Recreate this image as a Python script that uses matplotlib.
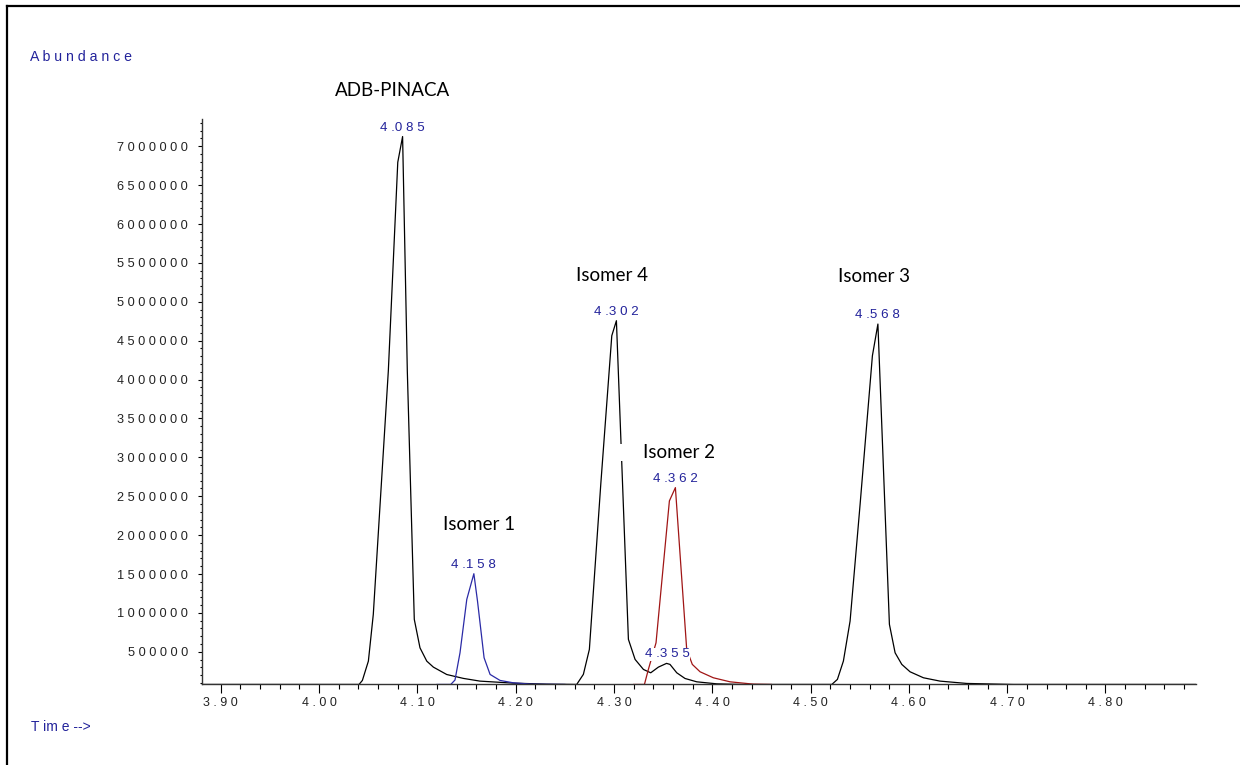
import matplotlib
matplotlib.use("Agg")
import matplotlib.pyplot as plt
from matplotlib.ticker import MultipleLocator, FuncFormatter
from matplotlib.lines import Line2D

# chromatogram traces (time in min, abundance)
black_t = [3.880, 4.0407, 4.0441, 4.0502, 4.0552, 4.0705, 4.0801, 4.0850, 4.0898, 4.0969,
           4.1027, 4.1096, 4.1163, 4.1299, 4.1468, 4.1637, 4.1977, 4.2316, 4.2621, 4.2689,
           4.2750, 4.2866, 4.2978, 4.3025, 4.3147, 4.3215, 4.3300, 4.3374, 4.3452, 4.3535,
           4.3570, 4.3639, 4.3723, 4.3842, 4.4046, 4.4300, 4.5216, 4.5273, 4.5334, 4.5402,
           4.5504, 4.5629, 4.5685, 4.5802, 4.5860, 4.5928, 4.6012, 4.6148, 4.6317, 4.6589,
           4.7063, 4.892]
black_y = [80000, 80000, 132000, 380000, 981000, 4113000, 6794000, 7125000, 4113000, 917000,
           551000, 380000, 303000, 208000, 158000, 123000, 97000, 84000, 80000, 210000,
           531000, 2654000, 4564000, 4757000, 660000, 402000, 273000, 230000, 303000, 351000,
           338000, 230000, 157000, 114000, 88000, 80000, 80000, 145000, 381000, 895000,
           2397000, 4306000, 4714000, 853000, 487000, 338000, 243000, 166000, 123000, 93000,
           80000, 80000]

blue_t = [4.120, 4.1340, 4.1383, 4.1434, 4.1503, 4.1575, 4.1612, 4.1679, 4.1740, 4.1841,
          4.1977, 4.2164, 4.2500]
blue_y = [80000, 80000, 137000, 487000, 1174000, 1504000, 1152000, 423000, 209000, 132000,
          101000, 84000, 80000]

red_t = [4.320, 4.3310, 4.3350, 4.3428, 4.3564, 4.3625, 4.3740, 4.3797, 4.3876, 4.4011,
         4.4181, 4.4418, 4.4600]
red_y = [80000, 80000, 273000, 616000, 2440000, 2611000, 531000, 338000, 243000, 166000,
         114000, 84000, 80000]

# peak retention time labels and apex heights
peak_rt = ["4.085", "4.158", "4.302", "4.362", "4.355", "4.568"]
peak_t = [4.085, 4.1575, 4.3025, 4.3625, 4.3545, 4.5685]
peak_h = [7125000, 1504000, 4757000, 2611000, 351000, 4714000]

# compound names, the peak they sit over, and text offset in pixels
names = ["ADB-PINACA", "Isomer 1", "Isomer 4", "        Isomer 2", "Isomer 3"]
name_peak = [0, 1, 2, 3, 5]
name_off = [(-10, 46), (5, 49), (-4, 45), (-15, 35), (-4, 48)]

label_blue = "#23239b"
tick_col = "#222222"

fig = plt.figure(figsize=(12.4, 7.65), dpi=100)
ax = fig.add_axes([0.1627, 0.1065, 0.8016, 0.7379])

ax.plot(black_t, black_y, color="black", lw=0.9, zorder=2)
ax.plot(blue_t, blue_y, color="#2a2aa6", lw=0.9, zorder=2)
ax.plot(red_t, red_y, color="#a01515", lw=0.9, zorder=2)

ax.set_xlim(3.8807, 4.8918)
ax.set_ylim(92000, 7350000)

for sp in ["top", "right"]:
    ax.spines[sp].set_visible(False)
for sp in ["left", "bottom"]:
    ax.spines[sp].set_linewidth(1.0)
    ax.spines[sp].set_color("#333333")

ax.xaxis.set_major_locator(MultipleLocator(0.1))
ax.xaxis.set_minor_locator(MultipleLocator(0.02))
ax.yaxis.set_major_locator(MultipleLocator(500000))
ax.yaxis.set_minor_locator(MultipleLocator(100000))

ax.xaxis.set_major_formatter(FuncFormatter(lambda v, p: " ".join(f"{v:.2f}")))
ax.yaxis.set_major_formatter(FuncFormatter(lambda v, p: " ".join(f"{int(round(v))}") if v > 0 else ""))

ax.tick_params(axis="x", which="major", length=6.5, width=0.8, pad=3, labelsize=9,
               labelcolor=tick_col, labelfontfamily="Liberation Sans")
ax.tick_params(axis="x", which="minor", length=3.5, width=0.8)
ax.tick_params(axis="y", which="major", length=3, width=0.8, pad=7, labelsize=9.2,
               labelcolor=tick_col, labelfontfamily="Liberation Sans")
ax.tick_params(axis="y", which="minor", length=1.7, width=0.8)

for lab, t, h in zip(peak_rt, peak_t, peak_h):
    txt = lab[0] + " " + lab[1] + " ".join(lab[2:])
    ax.annotate(txt, (t, h), xytext=(0, 3), textcoords="offset pixels",
                ha="center", va="bottom", color=label_blue, fontsize=9.6,
                family="Liberation Sans", zorder=5,
                bbox=dict(facecolor="white", edgecolor="none", pad=0.4))

for name, i, off in zip(names, name_peak, name_off):
    ax.annotate(name, (peak_t[i], peak_h[i]), xytext=off, textcoords="offset pixels",
                ha="center", va="center", color="black", fontsize=13.5,
                family="Lato", zorder=6,
                bbox=dict(facecolor="white", edgecolor="none", pad=0.3))

fig.text(30 / 1240, 1 - 57 / 765, " ".join("Abundance"), color=label_blue, fontsize=10.2,
         family="Liberation Sans", va="center", ha="left")
fig.text(31 / 1240, 1 - 727 / 765, "T im e -->", color=label_blue, fontsize=10,
         family="Liberation Sans", va="center", ha="left")

# frame of the pasted picture (left and top edges)
fig.add_artist(Line2D([7 / 1240, 7 / 1240], [0, 1 - 6 / 765], transform=fig.transFigure,
                      color="black", lw=1.6))
fig.add_artist(Line2D([7 / 1240, 1], [1 - 6 / 765, 1 - 6 / 765], transform=fig.transFigure,
                      color="black", lw=1.6))

fig.savefig("out.png", dpi=100)
